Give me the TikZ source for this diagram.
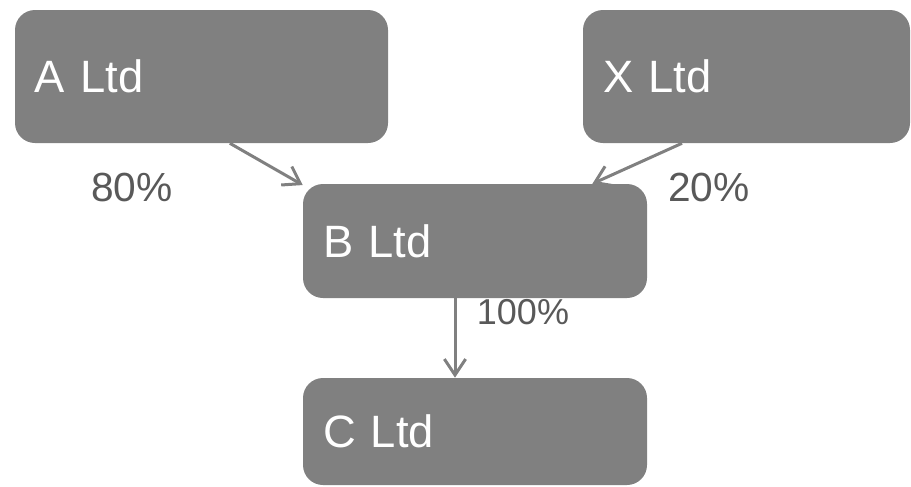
\documentclass[tikz,border=0pt]{standalone}
\usepackage{fontspec}
\setmainfont{Liberation Sans}
\usetikzlibrary{arrows.meta, positioning}
\definecolor{boxgray}{HTML}{808080}
\definecolor{labelgray}{HTML}{595959}

\begin{document}
\begin{tikzpicture}[
    x=0.75pt, y=-0.75pt,
    company/.style 2 args={
        rectangle, rounded corners=15pt,
        fill=boxgray, text=white,
        font=\fontsize{34}{40}\selectfont,
        inner xsep=15pt, inner ysep=0pt, align=left,
        text width=#1, minimum height=#2
    },
    share/.style={
        text=labelgray, inner sep=0pt,
        font=\fontsize{30.5}{36}\selectfont
    },
    link/.style={
        draw=boxgray, line width=2.25pt,
        -{Straight Barb[length=12pt, width=16pt, line width=2.25pt]}
    }
]
\useasboundingbox (0,0) rectangle (911,486);

% 1. TOP SECTION: shareholders
\node[company={249.75pt}{99.75pt}] (ALtd) at (201.5, 76.5) {A Ltd};
\node[company={215.25pt}{99.75pt}] (XLtd) at (746.5, 76.5) {X Ltd};

% 2. CENTER SECTION: B Ltd
\node[company={228pt}{85.5pt}] (BLtd) at (475, 241) {B Ltd};
\draw[link] (ALtd.-67.5) -- (BLtd.162);
\draw[link] (XLtd.-134.1) -- (BLtd.26.5);

\node[share] (Share80) at (132, 187) {80\%};
\node[share] (Share20) at (709, 187) {20\%};

% 3. BOTTOM SECTION: C Ltd
\node[company={228pt}{80.25pt}] (CLtd) at (475, 431.5) {C Ltd};
\draw[link] ([xshift=-15pt]BLtd.south) -- ([xshift=-15pt]CLtd.north);

\node[share, font=\fontsize{27}{32}\selectfont] (Share100) at (523, 312) {100\%};

\end{tikzpicture}
\end{document}
